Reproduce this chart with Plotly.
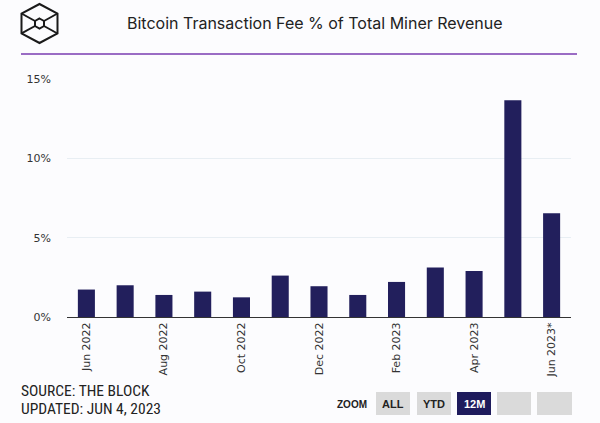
import plotly.graph_objects as go

months = ["Jun 2022", "Jul 2022", "Aug 2022", "Sep 2022", "Oct 2022", "Nov 2022",
          "Dec 2022", "Jan 2023", "Feb 2023", "Mar 2023", "Apr 2023", "May 2023", "Jun 2023"]
fee_pct = [1.73, 2.00, 1.39, 1.60, 1.24, 2.61, 1.94, 1.39, 2.21, 3.12, 2.90, 13.66, 6.54]
tick_months = ["Jun 2022", "Aug 2022", "Oct 2022", "Dec 2022", "Feb 2023", "Apr 2023", "Jun 2023"]
tick_labels = ["Jun 2022", "Aug 2022", "Oct 2022", "Dec 2022", "Feb 2023", "Apr 2023", "Jun 2023*"]
y_ticks = [0, 5, 10, 15]
y_tick_labels = ["0%", "5%", "10%", "15%"]

W, H = 600, 423
L, R, T, B = 67, 29, 79, 106
PW, PH = W - L - R, H - T - B

def px(x):
    return (x - L) / PW

def py(y):
    return (H - B - y) / PH

BAR = "#221f5c"

fig = go.Figure(go.Bar(x=months, y=fee_pct, marker=dict(color=BAR, line=dict(width=0)),
                       hoverinfo="x+y"))

fig.update_layout(
    width=W, height=H,
    margin=dict(l=L, r=R, t=T, b=B),
    paper_bgcolor="#fcfcfe", plot_bgcolor="#fcfcfe",
    bargap=0.56,
    showlegend=False,
    font=dict(family="DejaVu Sans, Verdana, sans-serif", color="#333333"),
)
fig.update_xaxes(
    type="category",
    tickvals=tick_months, ticktext=tick_labels,
    tickangle=-90, tickfont=dict(size=11, color="#333333"),
    showline=True, linecolor="#333333", linewidth=1,
    showgrid=False, ticks="", ticklen=0,
)
fig.update_yaxes(
    range=[0, 15], tickvals=y_ticks, ticktext=y_tick_labels,
    tickfont=dict(size=11, color="#333333"),
    showgrid=True, gridcolor="#e8eef3", gridwidth=1,
    zeroline=False, ticks="", ticklabelstandoff=15,
)

shapes = []
# title underline
shapes.append(dict(type="line", xref="paper", yref="paper",
                   x0=px(21), x1=px(577), y0=py(54), y1=py(54),
                   line=dict(color="#9a6cc4", width=2)))

# logo: outer hexagon, inner hexagon, connectors
cx = 39.5
outer = [(cx, 4), (57.5, 13.5), (57.5, 33.5), (cx, 43), (21.5, 33.5), (21.5, 13.5)]
inner = [(cx, 18.5), (44, 21), (44, 26), (cx, 28.5), (35, 26), (35, 21)]

def path_of(pts, close=True):
    s = "M " + " L ".join(f"{px(a):.5f},{py(b):.5f}" for a, b in pts)
    return s + (" Z" if close else "")

shapes.append(dict(type="path", xref="paper", yref="paper", path=path_of(outer),
                   line=dict(color="#1a1a1a", width=2)))
shapes.append(dict(type="path", xref="paper", yref="paper", path=path_of(inner),
                   line=dict(color="#1a1a1a", width=2)))
for o, i in [(outer[5], inner[5]), (outer[1], inner[1]), (outer[2], inner[2]), (outer[4], inner[4])]:
    shapes.append(dict(type="path", xref="paper", yref="paper", path=path_of([o, i], close=False),
                       line=dict(color="#1a1a1a", width=2)))

# zoom buttons
buttons = [(376, 410, "ALL", False), (417, 451, "YTD", False), (457, 491, "12M", True),
           (497, 531, "", False), (537, 572, "", False)]
annotations = []
for x0, x1, lab, active in buttons:
    shapes.append(dict(type="rect", xref="paper", yref="paper",
                       x0=px(x0), x1=px(x1), y0=py(415), y1=py(392),
                       fillcolor="#1e1b5c" if active else "#dadada", line=dict(width=0)))
    if lab:
        annotations.append(dict(xref="paper", yref="paper", x=px((x0 + x1) / 2), y=py(404),
                                text=f"<b>{lab}</b>", showarrow=False,
                                font=dict(family="Liberation Sans, Arial, sans-serif", size=11,
                                          color="#ffffff" if active else "#222222"),
                                xanchor="center", yanchor="middle"))
annotations.append(dict(xref="paper", yref="paper", x=px(352), y=py(404), text="<b>ZOOM</b>",
                        showarrow=False, font=dict(family="Liberation Sans, Arial, sans-serif",
                                                   size=10, color="#222222"),
                        xanchor="center", yanchor="middle"))

# title
annotations.append(dict(xref="paper", yref="paper", x=px(315), y=py(23),
                        text="Bitcoin Transaction Fee % of Total Miner Revenue", showarrow=False,
                        font=dict(family="Inter, Roboto, sans-serif", size=16, color="#222222"),
                        xanchor="center", yanchor="middle"))
# source
src_font = dict(family="Liberation Sans Narrow, Roboto Condensed, Roboto, sans-serif",
                size=15.5, color="#222222")
annotations.append(dict(xref="paper", yref="paper", x=px(19), y=py(391),
                        text="SOURCE: THE BLOCK", showarrow=False, font=src_font,
                        xanchor="left", yanchor="middle"))
annotations.append(dict(xref="paper", yref="paper", x=px(19), y=py(409),
                        text="UPDATED: JUN 4, 2023", showarrow=False, font=src_font,
                        xanchor="left", yanchor="middle"))

fig.update_layout(shapes=shapes, annotations=annotations)
fig.write_html("out.html", config={"displayModeBar": False},
               post_script="document.body.style.margin='0';document.body.style.overflow='hidden';")
